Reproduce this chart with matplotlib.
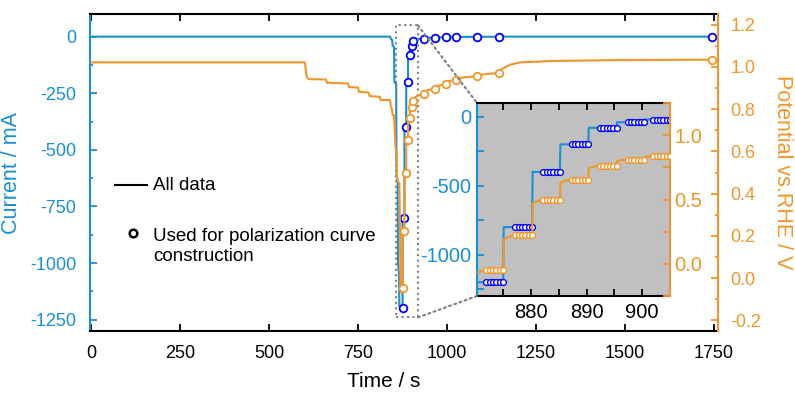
import matplotlib
matplotlib.use("Agg")
import matplotlib.pyplot as plt
from matplotlib.ticker import MultipleLocator, FormatStrFormatter
from matplotlib.patches import Rectangle, ConnectionPatch
from matplotlib.lines import Line2D

plt.rcParams['font.family'] = ['Liberation Sans', 'DejaVu Sans']
plt.rcParams['axes.unicode_minus'] = False

BLUE = '#1a8fd1'
ORANGE = '#f0962c'
MBLUE = '#0000ff'

# ---------------- data ----------------
# All data: current (mA) vs time (s)
t_cur = [0, 840, 842, 846, 847, 851, 852, 857, 858, 861, 862, 865, 866, 870.3,
         872.0, 872.6, 873.2, 873.8, 874.4, 875.0,
         875.1, 877.2, 877.8, 878.4, 879.0, 879.6, 880.2,
         880.3, 882.2, 882.8, 883.4, 884.0, 884.6, 885.2,
         885.3, 887.3, 887.9, 888.5, 889.1, 889.7, 890.3,
         890.4, 892.4, 893.0, 893.6, 894.2, 894.8, 895.4,
         895.5, 897.4, 898.0, 898.6, 899.2, 899.8, 900.4,
         900.5, 902.0, 902.6, 903.2, 903.8, 904.4, 905.0,
         905.1, 935, 935.1, 966, 966.1, 996, 996.1, 1025, 1025.1, 1085,
         1085.1, 1145, 1145.1, 1746]
cur = [0, 0, -10, -15, -40, -45, -200, -210, -620, -630, -1000, -1050, -1190, -1200,
       -1200, -1200, -1200, -1200, -1200, -1200,
       -800, -800, -800, -800, -800, -800, -800,
       -400, -400, -400, -400, -400, -400, -400,
       -200, -200, -200, -200, -200, -200, -200,
       -80, -80, -80, -80, -80, -80, -80,
       -40, -40, -40, -40, -40, -40, -40,
       -20, -20, -20, -20, -20, -20, -20,
       -10, -10, -5, -5, -3, -3, -2, -2, -1, -1,
       -0.5, -0.5, 0, 0]

# All data: potential (V vs RHE) vs time (s)
t_pot = [0, 600, 602, 604, 607, 612, 660, 662, 722, 724, 750, 752, 780, 782,
         811, 813, 840, 842, 845, 847, 851, 853, 855, 858, 859, 866, 868, 869, 870.3,
         872.0, 872.6, 873.2, 873.8, 874.4, 875.0,
         875.1, 876.2, 877.2, 877.8, 878.4, 879.0, 879.6, 880.2,
         880.3, 881.2, 882.2, 882.8, 883.4, 884.0, 884.6, 885.2,
         885.3, 886.2, 887.3, 887.9, 888.5, 889.1, 889.7, 890.3,
         890.4, 891.2, 892.4, 893.0, 893.6, 894.2, 894.8, 895.4,
         895.5, 896.2, 897.4, 898.0, 898.6, 899.2, 899.8, 900.4,
         900.5, 901.2, 902.0, 902.6, 903.2, 903.8, 904.4, 905.0,
         905.1, 915, 935, 935.1, 945, 966, 966.1, 980, 996, 996.1, 1010, 1025,
         1025.1, 1050, 1085, 1085.1, 1110, 1145, 1150, 1159, 1177, 1205, 1300,
         1490, 1746]
pot = [1.021, 1.021, 1.0, 0.965, 0.948, 0.942, 0.940, 0.925, 0.921, 0.904, 0.902, 0.882,
       0.878, 0.862, 0.858, 0.843, 0.843, 0.812, 0.80, 0.773, 0.77, 0.70, 0.62, 0.60,
       0.464, 0.45, 0.20, -0.03, -0.067,
       -0.048, -0.046, -0.045, -0.045, -0.045, -0.045,
       0.19, 0.212, 0.220, 0.221, 0.222, 0.222, 0.222, 0.222,
       0.47, 0.49, 0.497, 0.499, 0.50, 0.50, 0.50, 0.50,
       0.63, 0.645, 0.650, 0.651, 0.652, 0.652, 0.652, 0.652,
       0.745, 0.755, 0.758, 0.759, 0.76, 0.76, 0.76, 0.76,
       0.80, 0.806, 0.808, 0.809, 0.81, 0.81, 0.81, 0.81,
       0.832, 0.836, 0.838, 0.839, 0.84, 0.84, 0.84, 0.84,
       0.85, 0.862, 0.872, 0.88, 0.89, 0.896, 0.903, 0.912, 0.917, 0.925, 0.935, 0.939,
       0.945, 0.951, 0.955, 0.96, 0.966, 0.971, 0.985, 0.994, 1.010, 1.021, 1.028,
       1.032, 1.034]

# Points used for polarization curve (main plot)
t_used = [875.0, 880.2, 885.2, 890.3, 895.4, 900.4, 905.0, 935, 966, 996, 1025, 1085, 1145, 1746]
cur_used = [-1200, -800, -400, -200, -80, -40, -20, -10, -5, -3, -2, -1, -0.5, 0]
pot_used = [-0.045, 0.222, 0.50, 0.652, 0.76, 0.81, 0.84, 0.872, 0.896, 0.917, 0.939, 0.955, 0.971, 1.034]

# Points used in each polarization step (inset)
t_step = [872.0, 872.6, 873.2, 873.8, 874.4, 875.0,
          877.2, 877.8, 878.4, 879.0, 879.6, 880.2,
          882.2, 882.8, 883.4, 884.0, 884.6, 885.2,
          887.3, 887.9, 888.5, 889.1, 889.7, 890.3,
          892.4, 893.0, 893.6, 894.2, 894.8, 895.4,
          897.4, 898.0, 898.6, 899.2, 899.8, 900.4,
          902.0, 902.6, 903.2, 903.8, 904.4, 905.0]
cur_step = [-1200] * 6 + [-800] * 6 + [-400] * 6 + [-200] * 6 + [-80] * 6 + [-40] * 6 + [-20] * 6
pot_step = [-0.045] * 6 + [0.222] * 6 + [0.50] * 6 + [0.652] * 6 + [0.76] * 6 + [0.81] * 6 + [0.84] * 6

x_ticks = [0, 250, 500, 750, 1000, 1250, 1500, 1750]

# ---------------- figure ----------------
W, H = 795, 394
fig = plt.figure(figsize=(W / 100, H / 100), dpi=100)
L, R, T, B = 90, 718, 14, 331
ax = fig.add_axes([L / W, (H - B) / H, (R - L) / W, (B - T) / H])
ax2 = ax.twinx()

ax.plot(t_cur, cur, color=BLUE, lw=1.5, zorder=2)
ax.plot(t_used, cur_used, ls='none', marker='o', ms=5.5, mfc='white', mec=MBLUE, mew=1.3, zorder=3)
ax2.plot(t_pot, pot, color=ORANGE, lw=1.5, zorder=2)
ax2.plot(t_used, pot_used, ls='none', marker='o', ms=5.5, mfc='white', mec=ORANGE, mew=1.3, zorder=3)

ax.set_xlim(-4, 1762)
ax.set_ylim(-1300, 100)
ax2.set_ylim(-0.25, 1.25)
ax.set_xticks(x_ticks)
ax.yaxis.set_major_locator(MultipleLocator(250))
ax.yaxis.set_minor_locator(MultipleLocator(125))
ax2.yaxis.set_major_locator(MultipleLocator(0.2))
ax2.yaxis.set_minor_locator(MultipleLocator(0.1))
ax2.yaxis.set_major_formatter(FormatStrFormatter('%.1f'))

ax.tick_params(axis='x', which='both', direction='in', top=True, bottom=True, length=5,
               width=1.3, labelsize=13, pad=10)
ax.tick_params(axis='y', which='major', direction='in', left=True, right=False, length=5,
               width=1.3, labelsize=13, colors=BLUE, pad=10)
ax.tick_params(axis='y', which='minor', direction='in', left=True, right=False, length=2.5,
               width=1.3, colors=BLUE)
ax2.tick_params(axis='y', which='major', direction='in', right=True, length=5, width=1.3,
                labelsize=13, colors=ORANGE, pad=9)
ax2.tick_params(axis='y', which='minor', direction='in', right=True, length=2.5, width=1.3,
                colors=ORANGE)

for sp in ax.spines.values():
    sp.set_linewidth(1.5)
ax.spines['left'].set_color(BLUE)
ax.spines['right'].set_visible(False)
for s in ['left', 'top', 'bottom']:
    ax2.spines[s].set_visible(False)
ax2.spines['right'].set_color(ORANGE)
ax2.spines['right'].set_linewidth(1.5)

ax.set_xlabel('Time / s', fontsize=15)
ax.xaxis.set_label_coords(0.468, -0.13)
ax.set_ylabel('Current / mA', fontsize=15.5, color=BLUE)
ax.yaxis.set_label_coords(-0.108, 0.5)
ax2.set_ylabel('Potential vs.RHE / V', fontsize=15.5, color=ORANGE, rotation=270, va='center')
ax2.yaxis.set_label_coords(1.102, 0.5)

# legend (drawn manually)
def axc(px, py):
    return ((px - L) / (R - L), (B - py) / (B - T))

x0, y0 = axc(115, 185)
x1, _ = axc(147, 185)
ax.add_line(Line2D([x0, x1], [y0, y0], color='black', lw=1.5, transform=ax.transAxes))
tx, ty = axc(153, 185)
ax.text(tx, ty, 'All data', transform=ax.transAxes, fontsize=13.5, va='center', ha='left')
cx, cy = axc(133, 233)
ax.plot([cx], [cy], marker='o', ms=5.5, mfc='white', mec='black', mew=1.8,
        transform=ax.transAxes, clip_on=False)
tx2, ty2 = axc(153, 246.5)
ax.text(tx2, ty2, 'Used for polarization curve\nconstruction', transform=ax.transAxes,
        fontsize=13.5, va='center', ha='left', linespacing=1.25)

# zoom box and connectors
box_x0, box_x1, box_y0, box_y1 = 857, 918, -1240, 50
ax.add_patch(Rectangle((box_x0, box_y0), box_x1 - box_x0, box_y1 - box_y0, fill=False,
                       ls=':', lw=1.5, ec='#808080', zorder=5))

# ---------------- inset ----------------
IL, IR, IT, IB = 477, 670, 103, 296
axi = fig.add_axes([IL / W, (H - IB) / H, (IR - IL) / W, (IB - IT) / H])
axi.set_facecolor('#c0c0c0')
axi2 = axi.twinx()

axi.plot(t_cur, cur, color=BLUE, lw=1.5, zorder=2)
axi.plot(t_step, cur_step, ls='none', marker='o', ms=4.2, mfc='white', mec=MBLUE, mew=1.0, zorder=3)
axi2.plot(t_pot, pot, color=ORANGE, lw=1.5, zorder=2)
axi2.plot(t_step, pot_step, ls='none', marker='o', ms=4.2, mfc='white', mec=ORANGE, mew=1.0, zorder=3)

axi.set_xlim(870.3, 905)
axi.set_ylim(-1300, 100)
axi2.set_ylim(-0.25, 1.25)
axi.xaxis.set_major_locator(MultipleLocator(10))
axi.xaxis.set_minor_locator(MultipleLocator(5))
axi.yaxis.set_major_locator(MultipleLocator(500))
axi.yaxis.set_minor_locator(MultipleLocator(250))
axi2.yaxis.set_major_locator(MultipleLocator(0.5))
axi2.yaxis.set_minor_locator(MultipleLocator(0.25))
axi2.yaxis.set_major_formatter(FormatStrFormatter('%.1f'))

axi.tick_params(axis='x', which='both', direction='in', top=True, bottom=True, length=5,
                width=1.3, labelsize=14.5, pad=5)
axi.tick_params(axis='y', which='both', direction='in', left=True, right=False, length=5,
                width=1.3, labelsize=14.5, colors=BLUE, pad=4)
axi2.tick_params(axis='y', which='both', direction='in', right=True, length=5, width=1.3,
                 labelsize=14.5, colors=ORANGE, pad=3)
for sp in axi.spines.values():
    sp.set_linewidth(1.5)
axi.spines['left'].set_color(BLUE)
axi.spines['right'].set_visible(False)
for s in ['left', 'top', 'bottom']:
    axi2.spines[s].set_visible(False)
axi2.spines['right'].set_color(ORANGE)
axi2.spines['right'].set_linewidth(1.5)

for (xa, ya), (xb, yb) in [((box_x1, box_y1), (0, 1)), ((box_x1, box_y0), (0, 0))]:
    con = ConnectionPatch(xyA=(xa, ya), coordsA=ax.transData, xyB=(xb, yb),
                          coordsB=axi.transAxes, ls=':', lw=1.5, color='#808080')
    fig.add_artist(con)

fig.savefig('out.png', dpi=100)
